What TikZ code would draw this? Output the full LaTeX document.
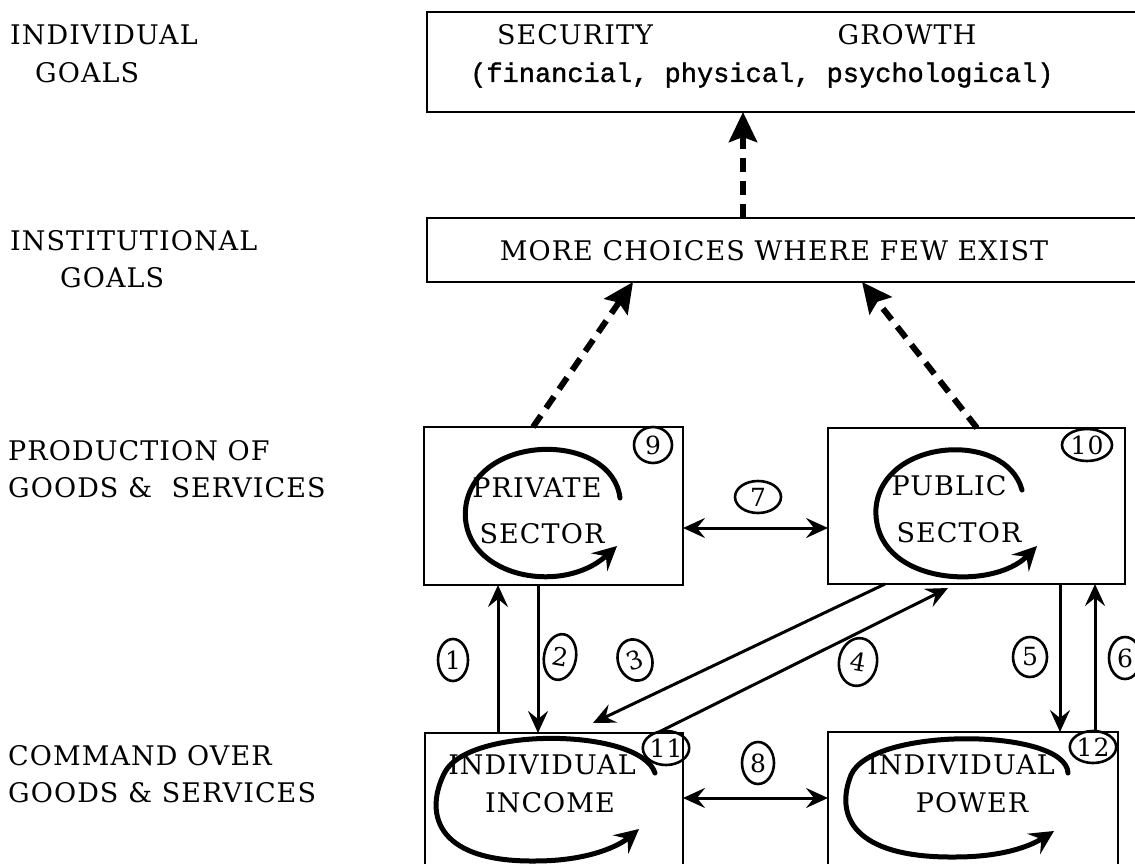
\documentclass[tikz,border=0pt]{standalone}
\usepackage{fontspec}
\setmainfont{DejaVu Serif}[LetterSpace=4]
\newfontfamily\twfont{Liberation Mono}[FakeBold=1.2]
\usetikzlibrary{arrows.meta,shapes.geometric}
\tikzset{
  lab/.style={font=\fontsize{27}{30}\selectfont, inner sep=0pt, anchor=base west},
  txt/.style={font=\fontsize{27}{30}\selectfont, inner sep=0pt, anchor=base},
  boxn/.style={draw, line width=2.6pt, anchor=north west, inner sep=0pt, outer sep=0pt},
  num/.style={ellipse, draw, line width=2.6pt, inner sep=0pt, font=\fontsize{25}{25}\selectfont},
  conn/.style={line width=3pt, -{Stealth[length=22pt,width=20pt,inset=8pt]}},
  dual/.style={line width=3pt, {Stealth[length=22pt,width=20pt,inset=8pt]}-{Stealth[length=22pt,width=20pt,inset=8pt]}},
  dsh/.style={line width=6pt, dash pattern=on 14pt off 9pt, -{Stealth[length=30pt,width=28pt,inset=5pt]}},
  lp/.style={line width=5pt, line cap=round, -{Stealth[length=24pt,width=24pt,inset=9pt]}}
}
\begin{document}
\begin{tikzpicture}[x=1pt,y=-1pt]
\clip (0,0) rectangle (1135,864);
\fill[white] (0,0) rectangle (1135,864);

% left labels
\node[lab] (l1a) at (10,45) {INDIVIDUAL};
\node[lab] (l1b) at (35,83) {GOALS};
\node[lab] (l2a) at (10,250) {INSTITUTIONAL};
\node[lab] (l2b) at (60,287) {GOALS};
\node[lab] (l3a) at (8,460) {PRODUCTION OF};
\node[lab] (l3b) at (8,497) {GOODS \&\ \ SERVICES};
\node[lab] (l4a) at (8,765) {COMMAND OVER};
\node[lab] (l4b) at (8,802) {GOODS \& SERVICES};

% boxes
\node[boxn, minimum width=740pt, minimum height=100pt] (top) at (427,12) {};
\node[boxn, minimum width=740pt, minimum height=64pt] (inst) at (427,218) {};
\node[boxn, minimum width=259pt, minimum height=158pt] (priv) at (424,427) {};
\node[boxn, minimum width=297pt, minimum height=156pt] (pub) at (828,428) {};
\node[boxn, minimum width=258pt, minimum height=170pt] (inc) at (425,733) {};
\node[boxn, minimum width=290pt, minimum height=170pt] (pow) at (828,732) {};

% box texts
\node[txt] (tsec) at (575,45) {SECURITY};
\node[txt] (tgro) at (907,45) {GROWTH};
\node[lab, font=\twfont\fontsize{27}{30}\selectfont] (tfin) at (470,82) {(financial, physical, psychological)};
\node[txt] (tmore) at (774,260) {MORE CHOICES WHERE FEW EXIST};
\node[txt] (tpriv) at (537,497) {PRIVATE};
\node[txt] (tpsec) at (542,543) {SECTOR};
\node[txt] (tpub) at (949,495) {PUBLIC};
\node[txt] (tusec) at (959,542) {SECTOR};
\node[txt] (tind1) at (542,774) {INDIVIDUAL};
\node[txt] (tinc) at (550,812) {INCOME};
\node[txt] (tind2) at (961,774) {INDIVIDUAL};
\node[txt] (tpow) at (972,812) {POWER};

% loops
\draw[lp] (620,498) .. controls (612,432) and (478,432) .. (466,505)
  .. controls (456,575) and (560,598) .. (617,546);
\draw[lp] (1022,490) .. controls (1006,430) and (882,438) .. (876,508)
  .. controls (872,585) and (992,592) .. (1037,546);
\draw[lp] (655,773) .. controls (640,728) and (470,726) .. (445,772)
  .. controls (425,810) and (432,862) .. (535,861)
  .. controls (590,861) and (620,845) .. (639,829);
\draw[lp] (1068,773) .. controls (1066,728) and (872,726) .. (851,775)
  .. controls (835,815) and (852,858) .. (955,857)
  .. controls (1005,857) and (1032,845) .. (1054,831);

% named coordinates for connector positions
\coordinate (xa1) at (498,0);
\coordinate (xa2) at (538,0);
\coordinate (xa3s) at (885,0);
\coordinate (a3e) at (593,723);
\coordinate (xa4s) at (657,0);
\coordinate (a4e) at (948,588);
\coordinate (xa5) at (1060,0);
\coordinate (xa6) at (1095,0);
\coordinate (y7) at (0,528);
\coordinate (y8) at (0,798);
\coordinate (xd1) at (743,0);
\coordinate (xd2s) at (533,0);
\coordinate (xd2e) at (633,0);
\coordinate (xd3s) at (977,0);
\coordinate (xd3e) at (862,0);

% connectors
\draw[conn] (inc.north -| xa1) -- (priv.south -| xa1);
\draw[conn] (priv.south -| xa2) -- (inc.north -| xa2);
\draw[conn] (pub.south -| xa3s) -- (a3e);
\draw[conn] (inc.north -| xa4s) -- (a4e);
\draw[conn] (pub.south -| xa5) -- (pow.north -| xa5);
\draw[conn] (pow.north -| xa6) -- (pub.south -| xa6);
\draw[dual] (priv.east |- y7) -- (pub.west |- y7);
\draw[dual] (inc.east |- y8) -- (pow.west |- y8);

% dashed connectors
\draw[dsh] (inst.north -| xd1) -- (top.south -| xd1);
\draw[dsh] (priv.north -| xd2s) -- (inst.south -| xd2e);
\draw[dsh] (pub.north -| xd3s) -- (inst.south -| xd3e);

% circled numbers
\node[num, minimum width=30pt, minimum height=42pt] (n1) at (453,660) {1};
\node[num, minimum width=32pt, minimum height=46pt, rotate=-10] (n2) at (560,657) {2};
\node[num, minimum width=34pt, minimum height=42pt, rotate=20] (n3) at (635,660) {3};
\node[num, minimum width=38pt, minimum height=48pt, rotate=-10] (n4) at (858,662) {4};
\node[num, minimum width=34pt, minimum height=40pt] (n5) at (1030,657) {5};
\node[num, minimum width=32pt, minimum height=42pt] (n6) at (1125,658) {6};
\node[num, minimum width=46pt, minimum height=32pt] (n7) at (758,497) {7};
\node[num, minimum width=32pt, minimum height=42pt] (n8) at (758,763) {8};
\node[num, minimum width=38pt, minimum height=36pt] (n9) at (653,445) {9};
\node[num, minimum width=50pt, minimum height=32pt] (n10) at (1087,445) {10};
\node[num, minimum width=34pt, minimum height=34pt] (n11) at (666,748) {11};
\node[num, minimum width=44pt, minimum height=32pt] (n12) at (1093,747) {12};
\end{tikzpicture}
\end{document}
